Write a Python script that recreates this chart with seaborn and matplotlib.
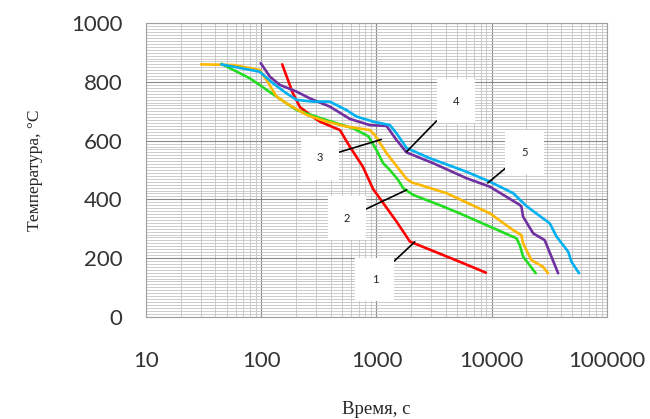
import pandas as pd
import numpy as np
import matplotlib.pyplot as plt
import matplotlib.ticker as mticker
import seaborn as sns

# cooling curves: time (s) and temperature (C)
time_1 = [152, 188, 217, 292, 323, 482, 588, 762, 935, 1493, 1950, 5290, 8900]
temp_1 = [860, 762, 714, 676, 665, 636, 579, 511, 435, 324, 256, 187, 150]

time_2 = [45, 80, 136, 203, 369, 628, 850, 1000, 1143, 1306, 1542, 1705, 2083,
          3550, 5290, 9640, 16400, 17500, 18700, 24100]
temp_2 = [862, 812, 750, 704, 670, 642, 615, 568, 523, 500, 466, 438, 415,
          380, 352, 307, 267, 244, 205, 148]

time_3 = [30, 57, 97, 111, 136, 166, 247, 369, 550, 877, 968, 1224, 1823, 2014,
          4055, 9640, 15350, 18100, 18700, 22100, 27900, 30800]
temp_3 = [860, 858, 841, 807, 750, 727, 688, 665, 648, 636, 619, 557, 470, 458,
          421, 352, 295, 278, 250, 193, 170, 148]

time_4 = [99, 119, 145, 203, 264, 394, 588, 877, 1224, 1493, 1823, 3105, 6040,
          9640, 17500, 18100, 18700, 22900, 28800, 33000, 37700]
temp_4 = [864, 818, 790, 767, 744, 716, 674, 653, 650, 602, 560, 523, 472,
          443, 381, 375, 341, 284, 261, 204, 148]

time_5 = [45, 97, 127, 166, 203, 282, 394, 550, 672, 935, 1306, 1493, 1823, 2905,
          6040, 9640, 15350, 20000, 31900, 36500, 46000, 49200, 57300]
temp_5 = [860, 835, 795, 761, 739, 733, 733, 704, 682, 665, 653, 625, 575, 540,
          494, 460, 421, 377, 318, 273, 222, 187, 148]

curve_names = ["1", "2", "3", "4", "5"]
curve_colors = ["#ff0000", "#22dd22", "#ffb800", "#7030a0", "#00b0f0"]

# label positions (text centre) and the point on the curve each label points to
label_xy = [(968, 128), (553, 336), (323, 541), (4890, 735), (19370, 561)]
label_target = [(2150, 255), (1823, 432), (1101, 604), (1823, 562), (9250, 456)]

x_ticks = [10, 100, 1000, 10000, 100000]
y_ticks = [0, 200, 400, 600, 800, 1000]

df = pd.concat([
    pd.DataFrame({"time": t, "temp": T, "curve": n})
    for t, T, n in zip([time_1, time_2, time_3, time_4, time_5],
                       [temp_1, temp_2, temp_3, temp_4, temp_5], curve_names)
])

sns.set_style("white")
plt.rcParams["font.family"] = ["Lato", "DejaVu Sans"]

fig = plt.figure(figsize=(6.5, 4.19), dpi=100)
ax = fig.add_axes([0.2246, 0.2442, 0.7092, 0.7002])

sns.lineplot(data=df, x="time", y="temp", hue="curve", sort=False, estimator=None,
             palette=dict(zip(curve_names, curve_colors)), linewidth=1.9,
             legend=False, ax=ax, zorder=3)

ax.set_xscale("log")
ax.set_xlim(10, 100000)
ax.set_ylim(0, 1000)
ax.xaxis.set_major_locator(mticker.FixedLocator(x_ticks))
ax.xaxis.set_major_formatter(mticker.FixedFormatter([str(v) for v in x_ticks]))
ax.xaxis.set_minor_locator(mticker.LogLocator(base=10, subs=np.arange(2, 10)))
ax.xaxis.set_minor_formatter(mticker.NullFormatter())
ax.yaxis.set_major_locator(mticker.FixedLocator(y_ticks))
ax.yaxis.set_minor_locator(mticker.MultipleLocator(10))

ax.grid(which="minor", color="#c4c4c4", linewidth=0.6, zorder=0)
ax.grid(which="major", color="#8a8a8a", linewidth=0.8, zorder=0)
ax.set_axisbelow(True)
for sp in ax.spines.values():
    sp.set_color("#a0a0a0")
    sp.set_linewidth(0.8)

ax.tick_params(axis="x", which="both", length=0, pad=25, labelsize=16, labelcolor="#333333")
ax.tick_params(axis="y", which="both", length=0, pad=17, labelsize=16, labelcolor="#333333")

serif = ["Liberation Serif", "DejaVu Serif"]
ax.set_xlabel("Время, с", family=serif, fontsize=13.5, labelpad=21)
ax.set_ylabel("Температура, °С", family=serif, fontsize=12.5, labelpad=20)

for name, (tx, ty), (px, py) in zip(curve_names, label_xy, label_target):
    ax.annotate(name, xy=(px, py), xytext=(tx, ty), ha="center", va="center",
                fontsize=8, color="#222222", zorder=5,
                bbox=dict(boxstyle="square,pad=1.45", fc="white", ec="none"),
                arrowprops=dict(arrowstyle="-", color="black", lw=1.2,
                                shrinkA=0, shrinkB=0))

fig.savefig("out.png", dpi=100)
